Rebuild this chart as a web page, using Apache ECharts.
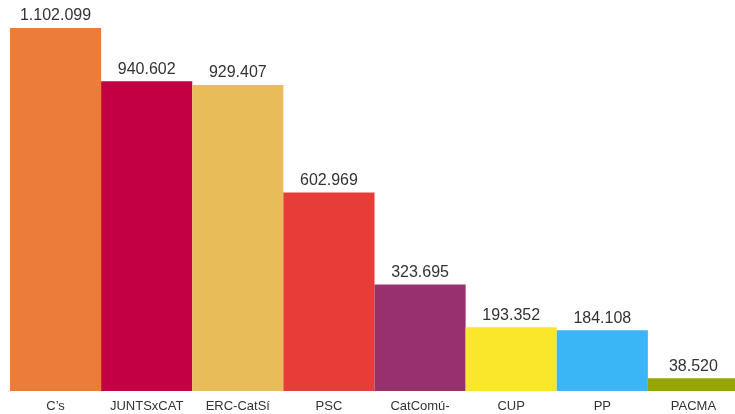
<!DOCTYPE html>
<html>
<head>
<meta charset="utf-8">
<script src="https://cdn.jsdelivr.net/npm/echarts@6/dist/echarts.min.js"></script>
<style>
  html, body { margin: 0; padding: 0; background: #fff; }
  #chart { width: 735px; height: 414px; }
</style>
</head>
<body>
<div id="chart"></div>
<script>
// partidos y votos
const parties = ['C\u2019s', 'JUNTSxCAT', 'ERC-CatS\u00ed', 'PSC', 'CatCom\u00fa-\nPodem', 'CUP', 'PP', 'PACMA']
const votes = [1102099, 940602, 929407, 602969, 323695, 193352, 184108, 38520]
const colors = ['#ec7c3a', '#c20043', '#e8bc58', '#e73c37', '#98306e', '#fae72c', '#3ab6f7', '#93a700']

// 1.102.099 style
function fmt (v) {
  return String(v).replace(/\B(?=(\d{3})+(?!\d))/g, '.')
}

let chart = echarts.init(document.getElementById('chart'))
chart.setOption({
  animation: false,
  grid: {
    left: 10,
    top: 28,
    bottom: 23,
    width: 729,
    outerBoundsMode: 'none',
    containLabel: false
  },
  xAxis: {
    type: 'category',
    data: parties,
    axisLine: { show: false },
    axisTick: { show: false },
    axisLabel: {
      interval: 0,
      margin: 8,
      color: '#333',
      fontFamily: 'Liberation Sans',
      fontSize: 13,
      lineHeight: 15
    }
  },
  yAxis: {
    type: 'value',
    min: 0,
    max: 1102099,
    show: false
  },
  series: [{
    type: 'bar',
    barCategoryGap: 0,
    data: votes.map((v, i) => ({ value: v, itemStyle: { color: colors[i] } })),
    label: {
      show: true,
      position: 'top',
      distance: 4,
      color: '#333',
      fontFamily: 'Liberation Sans',
      fontSize: 16,
      formatter: p => fmt(p.value)
    }
  }]
})
</script>
</body>
</html>
